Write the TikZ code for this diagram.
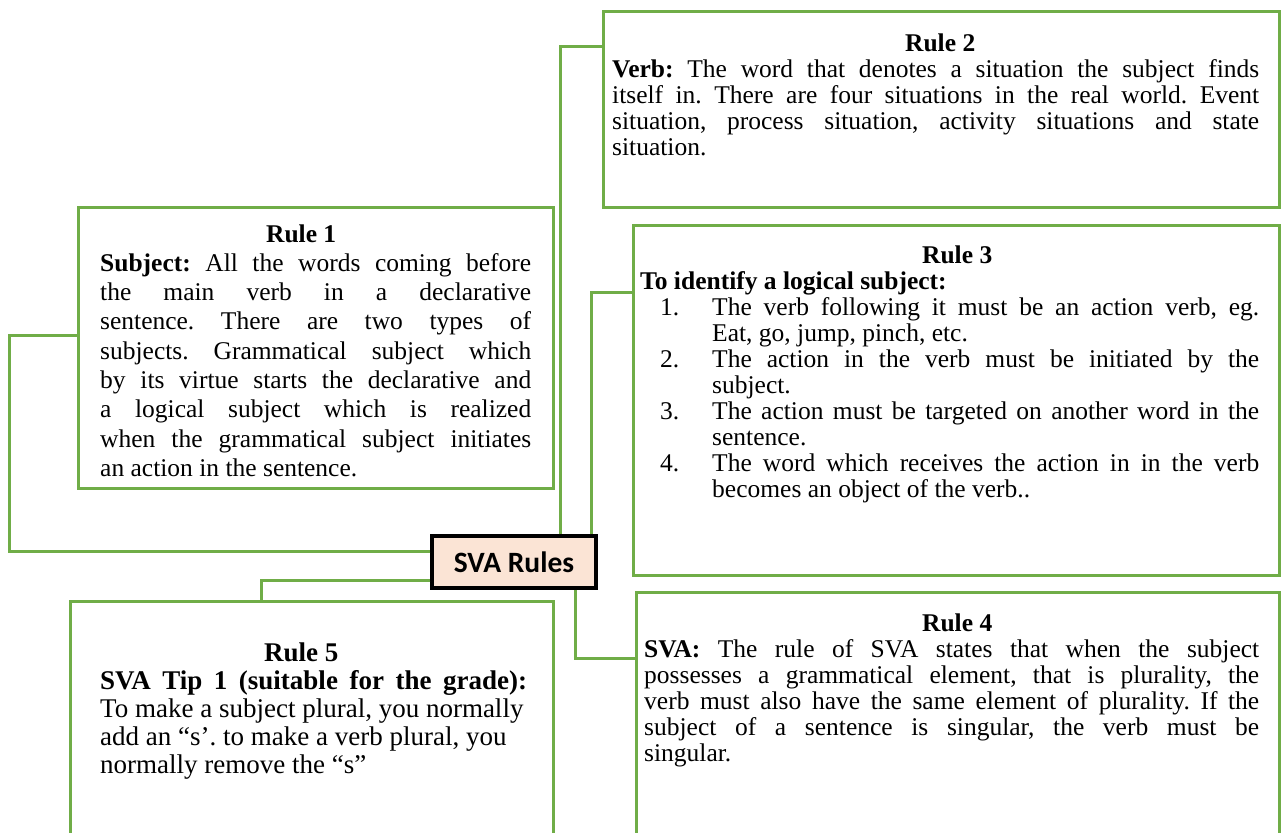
\documentclass[tikz,border=0pt]{standalone}
\usepackage{fontspec}
\setmainfont{Liberation Serif}
\newfontfamily\calib{Carlito}
\definecolor{grn}{HTML}{70AD47}
\definecolor{peach}{HTML}{FBE4D5}
\frenchspacing
\newcommand\myJL[1]{\hbox to\hsize{#1}}
\newcommand\myLL[1]{\hbox to\hsize{#1\hfil}}
\newcommand\myCT[2]{\hbox to\hsize{\hskip#1\hbox to0pt{\hss\textbf{#2}\hss}\hfil}}
\newcommand\myIJ[2]{\hbox to\hsize{\hskip20pt\hbox to52pt{#1\hfil}\hbox to\dimexpr\hsize-72pt\relax{#2}}}
\newcommand\myIL[2]{\hbox to\hsize{\hskip20pt\hbox to52pt{#1\hfil}\hbox to\dimexpr\hsize-72pt\relax{#2\hfil}}}
\tikzset{
  rbox/.style={draw=grn, line width=3pt, rectangle, inner sep=0pt},
  conn/.style={draw=grn, line width=3pt},
  txt/.style={inner sep=0pt, anchor=base west, font=\frenchspacing\fontsize{25.5}{26}\selectfont},
  central/.style={draw=black, line width=3.5pt, fill=peach, inner sep=0pt,
    minimum width=164pt, minimum height=52pt, font=\calib\bfseries\fontsize{29.5}{32}\selectfont}
}
\begin{document}
\begin{tikzpicture}[x=1pt,y=-1pt]
\useasboundingbox (0,0) rectangle (1281,832);
\clip (0,0) rectangle (1281,832);
% boxes
\node[rbox, minimum width=475pt, minimum height=281pt] (r1) at (315.5,347.5) {};
\node[rbox, minimum width=676pt, minimum height=195pt] (r2) at (941,109.5) {};
\node[rbox, minimum width=646pt, minimum height=350pt] (r3) at (956,400) {};
\node[rbox, minimum width=643pt, minimum height=258pt] (r4) at (957.5,721) {};
\node[rbox, minimum width=483pt, minimum height=249pt] (r5) at (311.5,725.5) {};
\node[central] (sva) at (514,562) {SVA Rules};
% connectors
\draw[conn] ([yshift=11pt]sva.west) -| ([xshift=-67pt,yshift=12.5pt]r1.west) -- ([yshift=12.5pt]r1.west);
\draw[conn] ([yshift=-18pt]sva.west) -| ([xshift=-50.5pt]r5.north);
\draw[conn] ([xshift=46pt]sva.north) |- ([yshift=62.5pt]r2.west);
\draw[conn] ([xshift=77pt]sva.north) |- ([yshift=108pt]r3.west);
\draw[conn] ([xshift=61pt]sva.south) |- ([yshift=63pt]r4.west);
% texts
\node[txt] (t1) at (100,242) {\vtop{\hsize=431pt\baselineskip=29.3pt
\myCT{201pt}{Rule 1}
\myJL{\textbf{Subject:} All the words coming before}
\myJL{the main verb in a declarative}
\myJL{sentence. There are two types of}
\myJL{subjects. Grammatical subject which}
\myJL{by its virtue starts the declarative and}
\myJL{a logical subject which is realized}
\myJL{when the grammatical subject initiates}
\myLL{an action in the sentence.}}};
\node[txt] (t2) at (612,52) {\vtop{\hsize=647pt\baselineskip=26pt
\myCT{328pt}{Rule 2}
\myJL{\textbf{Verb:} The word that denotes a situation the subject finds}
\myJL{itself in. There are four situations in the real world. Event}
\myJL{situation, process situation, activity situations and state}
\myLL{situation.}}};
\node[txt] (t3) at (640,263) {\vtop{\hsize=619pt\baselineskip=26pt
\myCT{317pt}{Rule 3}
\myLL{\textbf{To identify a logical subject:}}
\myIJ{1.}{The verb following it must be an action verb, eg.}
\myIL{}{Eat, go, jump, pinch, etc.}
\myIJ{2.}{The action in the verb must be initiated by the}
\myIL{}{subject.}
\myIJ{3.}{The action must be targeted on another word in the}
\myIL{}{sentence.}
\myIJ{4.}{The word which receives the action in in the verb}
\myIL{}{becomes an object of the verb..}}};
\node[txt] (t4) at (644,631) {\vtop{\hsize=615pt\baselineskip=26pt
\myCT{313pt}{Rule 4}
\myJL{\textbf{SVA:} The rule of SVA states that when the subject}
\myJL{possesses a grammatical element, that is plurality, the}
\myJL{verb must also have the same element of plurality. If the}
\myJL{subject of a sentence is singular, the verb must be}
\myLL{singular.}}};
\node[txt, font=\frenchspacing\fontsize{27}{28}\selectfont] (t5) at (100,661) {\vtop{\hsize=427pt\baselineskip=28pt
\myCT{201pt}{Rule 5}
\myJL{\textbf{SVA Tip 1 (suitable for the grade):}}
\myLL{To make a subject plural, you normally}
\myLL{add an “s’. to make a verb plural, you}
\myLL{normally remove the “s”}}};
\end{tikzpicture}
\end{document}
